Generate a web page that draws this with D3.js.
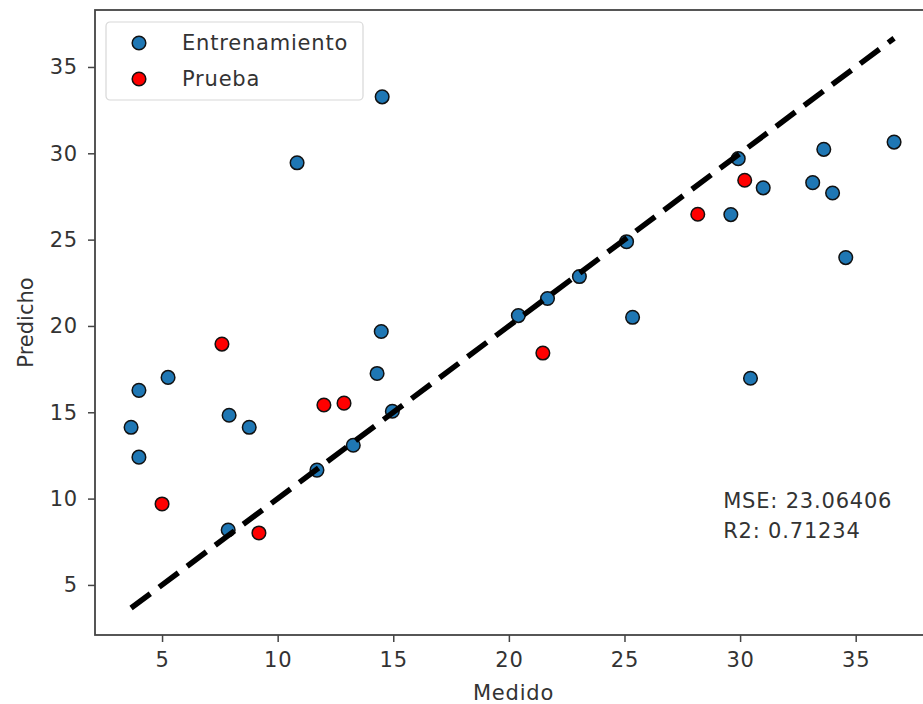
<!DOCTYPE html>
<html>
<head>
<meta charset="utf-8">
<script src="https://cdn.jsdelivr.net/npm/d3@7"></script>
<style>
  body { margin: 0; background: #fff; }
  svg { display: block; font-family: "DejaVu Sans", sans-serif; }
</style>
</head>
<body>
<div id="chart"></div>
<script>
// values
var trainMedido   = [3.66, 4.0, 4.0, 5.26, 7.9, 8.77, 7.86, 10.84, 11.7, 13.27, 14.3, 14.48, 14.52, 14.96,
                     20.41, 21.67, 23.05, 25.09, 25.35, 29.6, 29.92, 31.0, 33.14, 33.62, 34.0, 34.57, 30.45, 36.66];
var trainPredicho = [14.13, 16.27, 12.4, 17.02, 14.83, 14.13, 8.18, 29.45, 11.65, 13.09, 17.25, 19.68, 33.27, 15.06,
                     20.6, 21.59, 22.86, 24.88, 20.5, 26.45, 29.69, 28.0, 28.3, 30.23, 27.7, 23.96, 16.97, 30.65];
var testMedido    = [5.0, 7.59, 9.19, 12.0, 12.87, 21.47, 28.17, 30.2];
var testPredicho  = [9.69, 18.95, 8.01, 15.42, 15.53, 18.43, 26.47, 28.44];
var xTicks = [5, 10, 15, 20, 25, 30, 35];
var yTicks = [5, 10, 15, 20, 25, 30, 35];
var legendLabels = ["Entrenamiento", "Prueba"];
var statsLines = ["MSE: 23.06406", "R2: 0.71234"];

var width = 923, height = 704;
var margin = {top: 10, left: 95};
var plotW = 837, plotH = 625;
var fs = 21;

var svg = d3.select("#chart").append("svg")
  .attr("width", width)
  .attr("height", height);

var g = svg.append("g").attr("transform", "translate(" + margin.left + "," + margin.top + ")");

var x = d3.scaleLinear().domain([2.1, 38.3]).range([0, plotW]);
var y = d3.scaleLinear().domain([2.1, 38.3]).range([plotH, 0]);

var train = trainMedido.map(function(d, i) { return {m: d, p: trainPredicho[i]}; });
var test = testMedido.map(function(d, i) { return {m: d, p: testPredicho[i]}; });

function styleAxis(sel) {
  sel.select(".domain").remove();
  sel.selectAll(".tick line").attr("stroke", "#444").attr("stroke-width", 1.5);
  sel.selectAll(".tick text").attr("fill", "#333").attr("font-size", fs)
    .attr("font-family", "DejaVu Sans").style("letter-spacing", "0.8px");
}

g.append("g")
  .attr("transform", "translate(0," + plotH + ")")
  .call(d3.axisBottom(x).tickValues(xTicks).tickSize(7).tickPadding(10))
  .call(styleAxis);

g.append("g")
  .call(d3.axisLeft(y).tickValues(yTicks).tickSize(7).tickPadding(10))
  .call(styleAxis);

// spines
g.append("rect")
  .attr("width", plotW).attr("height", plotH)
  .attr("fill", "none").attr("stroke", "#444").attr("stroke-width", 1.8);

g.append("g").selectAll("circle")
  .data(train).enter().append("circle")
    .attr("cx", function(d) { return x(d.m); })
    .attr("cy", function(d) { return y(d.p); })
    .attr("r", 6.8)
    .attr("fill", "#1f77b4")
    .attr("stroke", "#111").attr("stroke-width", 1.5);

g.append("g").selectAll("circle")
  .data(test).enter().append("circle")
    .attr("cx", function(d) { return x(d.m); })
    .attr("cy", function(d) { return y(d.p); })
    .attr("r", 6.8)
    .attr("fill", "#ff0000")
    .attr("stroke", "#111").attr("stroke-width", 1.5);

// ideal line from min to max measured
var ext = d3.extent(trainMedido.concat(testMedido));
g.append("line")
  .attr("x1", x(ext[0])).attr("y1", y(ext[0]))
  .attr("x2", x(ext[1])).attr("y2", y(ext[1]))
  .attr("stroke", "#000").attr("stroke-width", 5.5)
  .attr("stroke-dasharray", "24,11");

// stats text
g.append("text")
  .attr("x", x(29.27)).attr("y", y(9.45))
  .attr("font-size", fs).attr("fill", "#333").style("letter-spacing", "0.8px")
  .selectAll("tspan").data(statsLines).enter().append("tspan")
    .attr("x", x(29.27))
    .attr("dy", function(d, i) { return i ? 30 : 0; })
    .text(function(d) { return d; });

// axis labels
svg.append("text")
  .attr("x", margin.left + plotW / 2).attr("y", 700)
  .attr("text-anchor", "middle").attr("font-size", fs).attr("fill", "#333")
  .style("letter-spacing", "0.8px")
  .text("Medido");

svg.append("text")
  .attr("transform", "translate(33," + (margin.top + plotH / 2) + ") rotate(-90)")
  .attr("text-anchor", "middle").attr("font-size", fs).attr("fill", "#333")
  .text("Predicho");

// legend
var legend = svg.append("g").attr("transform", "translate(106,22)");
legend.append("rect")
  .attr("width", 257).attr("height", 78).attr("rx", 4)
  .attr("fill", "#fff").attr("fill-opacity", 0.8)
  .attr("stroke", "#d8d8d8").attr("stroke-width", 1.2);

var item = legend.selectAll("g.item")
  .data(legendLabels).enter().append("g")
    .attr("class", "item")
    .attr("transform", function(d, i) { return "translate(0," + (21 + i * 36) + ")"; });

item.append("circle")
  .attr("cx", 33).attr("r", 6.8)
  .attr("fill", function(d, i) { return i ? "#ff0000" : "#1f77b4"; })
  .attr("stroke", "#111").attr("stroke-width", 1.5);

item.append("text")
  .attr("x", 76).attr("dy", "0.35em")
  .attr("font-size", fs).attr("fill", "#333").style("letter-spacing", "0.8px")
  .text(function(d) { return d; });
</script>
</body>
</html>
